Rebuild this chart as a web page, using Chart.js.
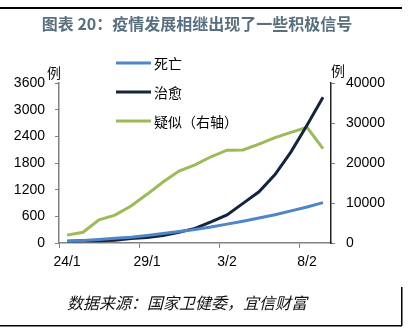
<!DOCTYPE html>
<html>
<head>
<meta charset="utf-8">
<script src="https://cdn.jsdelivr.net/npm/chart.js@4"></script>
<style>
  html, body { margin: 0; padding: 0; background: #fff; }
  #wrap { position: relative; width: 408px; height: 331px; }
</style>
</head>
<body>
<div id="wrap"><canvas id="c" width="408" height="331"></canvas></div>
<script>
// daily figures, 24/1 .. 9/2
const dates = ['24/1','25/1','26/1','27/1','28/1','29/1','30/1','31/1','1/2','2/2','3/2','4/2','5/2','6/2','7/2','8/2','9/2'];
const deaths = [41, 56, 80, 106, 132, 170, 213, 259, 304, 361, 425, 490, 563, 636, 722, 811, 908];
const cured = [38, 49, 51, 60, 103, 124, 171, 243, 328, 475, 632, 892, 1153, 1540, 2050, 2649, 3281];
const suspected = [1965, 2684, 5794, 6973, 9239, 12167, 15238, 17988, 19544, 21558, 23214, 23260, 24702, 26359, 27657, 28942, 23589];

const seriesNames = ['死亡', '治愈', '疑似（右轴）'];
const colors = ['#4f86c6', '#15243d', '#9bbb59'];

const TITLE = '图表 20：疫情发展相继出现了一些积极信号';
const SOURCE = '数据来源：国家卫健委，宜信财富';

const CJK = '"Noto Sans CJK SC", sans-serif';
const NUM = '"Liberation Sans", Arial, sans-serif';

// title, frame, unit labels and the legend
const decor = {
    id: 'decor',
    afterDraw(chart) {
        const ctx = chart.ctx;
        ctx.save();
        ctx.fillStyle = '#000';
        ctx.fillRect(0, 7, 402, 2);
        ctx.fillRect(0, 325, 402, 1.5);
        ctx.fillRect(401, 287, 1.5, 39);

        ctx.textAlign = 'center';
        ctx.textBaseline = 'middle';
        ctx.font = 'bold 16px ' + CJK;
        ctx.fillStyle = '#5a6f7e';
        ctx.fillText(TITLE, 197, 24);

        ctx.font = 'italic 16px ' + CJK;
        ctx.fillStyle = '#111';
        ctx.fillText(SOURCE, 187, 303);

        ctx.font = '14px ' + CJK;
        ctx.fillText('例', 54, 73);
        ctx.fillText('例', 338, 71);

        // legend
        ctx.textAlign = 'left';
        const ys = [63, 92, 121];
        chart.data.datasets.forEach((ds, i) => {
            ctx.strokeStyle = ds.borderColor;
            ctx.lineWidth = 3;
            ctx.beginPath();
            ctx.moveTo(116, ys[i]);
            ctx.lineTo(151, ys[i]);
            ctx.stroke();
            ctx.fillStyle = '#000';
            ctx.fillText(ds.label, 154, ys[i] + 1);
        });
        ctx.restore();
    }
};

const lineStyle = { borderWidth: 3, pointRadius: 0, tension: 0, fill: false };

new Chart(document.getElementById('c'), {
    type: 'line',
    data: {
        labels: dates,
        datasets: [
            { label: seriesNames[0], data: deaths, borderColor: colors[0], yAxisID: 'y', ...lineStyle },
            { label: seriesNames[1], data: cured, borderColor: colors[1], yAxisID: 'y', ...lineStyle },
            { label: seriesNames[2], data: suspected, borderColor: colors[2], yAxisID: 'y1', ...lineStyle }
        ]
    },
    options: {
        responsive: false,
        animation: false,
        layout: { padding: { top: 83, left: 0, right: 0, bottom: 0 } },
        plugins: { legend: { display: false }, tooltip: { enabled: false } },
        scales: {
            x: {
                offset: true,
                afterFit(s) { s.height = 88; },
                grid: {
                    offset: true,
                    drawOnChartArea: false,
                    tickLength: 5,
                    color: c => (c.index % 5 === 0 ? '#808080' : 'rgba(0,0,0,0)')
                },
                border: { color: '#808080', width: 1.5 },
                ticks: {
                    autoSkip: false,
                    maxRotation: 0,
                    padding: 6,
                    color: '#000',
                    font: { family: NUM, size: 14 },
                    callback(v, i) { return i % 5 === 0 ? dates[i] : ''; }
                }
            },
            y: {
                position: 'left',
                min: 0, max: 3600,
                afterFit(s) { s.width = 59; },
                grid: { drawOnChartArea: false, tickLength: 4, color: '#808080' },
                border: { color: '#808080', width: 1.5 },
                ticks: { stepSize: 600, padding: 10, color: '#000', font: { family: NUM, size: 14 }, callback: v => String(v) }
            },
            y1: {
                position: 'right',
                min: 0, max: 40000,
                afterFit(s) { s.width = 77; },
                grid: { drawOnChartArea: false, tickLength: 4, color: '#808080' },
                border: { color: '#222', width: 1.5 },
                ticks: { stepSize: 10000, padding: 11, color: '#000', font: { family: NUM, size: 14 }, callback: v => String(v) }
            }
        }
    },
    plugins: [decor]
});
</script>
</body>
</html>
